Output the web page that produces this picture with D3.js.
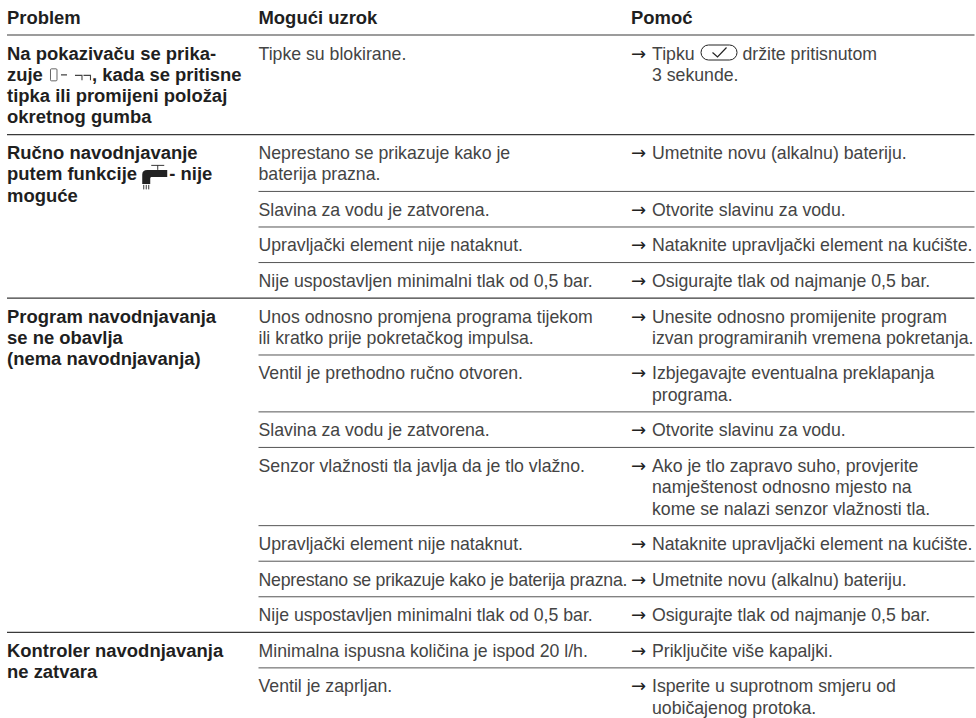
<!DOCTYPE html>
<html>
<head>
<meta charset="utf-8">
<script src="https://cdn.jsdelivr.net/npm/d3@7"></script>
<style>
  html, body { margin: 0; padding: 0; background: #fff; }
  svg { display: block; }
  text { font-family: "Liberation Sans", sans-serif; }
</style>
</head>
<body>
<svg id="chart" width="976" height="718"></svg>
<script>
const headers = ["Problem", "Mogući uzrok", "Pomoć"];

// each group: problem lines, then the index range of its rows
const problems = [
  ["Na pokazivaču se prika-", "zuje {lcd}, kada se pritisne", "tipka ili promijeni položaj", "okretnog gumba"],
  ["Ručno navodnjavanje", "putem funkcije {tap}- nije", "moguće"],
  ["Program navodnjavanja", "se ne obavlja", "(nema navodnjavanja)"],
  ["Kontroler navodnjavanja", "ne zatvara"]
];
const groupRows = [1, 4, 7, 2];

const causes = [
  ["Tipke su blokirane."],
  ["Neprestano se prikazuje kako je", "baterija prazna."],
  ["Slavina za vodu je zatvorena."],
  ["Upravljački element nije nataknut."],
  ["Nije uspostavljen minimalni tlak od 0,5 bar."],
  ["Unos odnosno promjena programa tijekom", "ili kratko prije pokretačkog impulsa."],
  ["Ventil je prethodno ručno otvoren."],
  ["Slavina za vodu je zatvorena."],
  ["Senzor vlažnosti tla javlja da je tlo vlažno."],
  ["Upravljački element nije nataknut."],
  ["Neprestano se prikazuje kako je baterija prazna."],
  ["Nije uspostavljen minimalni tlak od 0,5 bar."],
  ["Minimalna ispusna količina je ispod 20 l/h."],
  ["Ventil je zaprljan."]
];
const remedies = [
  ["Tipku {key} držite pritisnutom", "3 sekunde."],
  ["Umetnite novu (alkalnu) bateriju."],
  ["Otvorite slavinu za vodu."],
  ["Nataknite upravljački element na kućište."],
  ["Osigurajte tlak od najmanje 0,5 bar."],
  ["Unesite odnosno promijenite program", "izvan programiranih vremena pokretanja."],
  ["Izbjegavajte eventualna preklapanja", "programa."],
  ["Otvorite slavinu za vodu."],
  ["Ako je tlo zapravo suho, provjerite", "namještenost odnosno mjesto na", "kome se nalazi senzor vlažnosti tla."],
  ["Nataknite upravljački element na kućište."],
  ["Umetnite novu (alkalnu) bateriju."],
  ["Osigurajte tlak od najmanje 0,5 bar."],
  ["Priključite više kapaljki."],
  ["Isperite u suprotnom smjeru od", "uobičajenog protoka."]
];
// row height in text lines (first row keeps the height of its 4-line problem)
const rowLines = [4, 2, 1, 1, 1, 2, 2, 1, 3, 1, 1, 1, 1, 2];

const rowPad = 0.667; // in line units
const bodySize = 17.7;
const boldSize = 18.45;
const columns = ["problem", "cause", "remedy"];

const svg = d3.select("#chart");
const x = d3.scaleOrdinal().domain(columns).range([7, 258.5, 631]);
const y = d3.scaleLinear().domain([0, 1]).range([35, 56.33]);
const xEnd = 974.5;
const indent = 21;
const causeWidth = 369; // the long line is squeezed to stay clear of the arrow

// row tops in line units
const rowTops = d3.cumsum([0].concat(rowLines.map(n => n + rowPad)));

function drawIcon(g, name, cx, base) {
  const ig = g.append("g").attr("transform", `translate(${cx},${base})`);
  if (name === "lcd") {
    ig.append("rect").attr("x", 2.5).attr("y", -12).attr("width", 6.5).attr("height", 12)
      .attr("rx", 1).attr("fill", "none").attr("stroke", "#555").attr("stroke-width", 0.9);
    ig.append("path").attr("d", "M13 -6H19M27 -5.5H34V-0.5M35.5 -5.5H42.5V-0.5")
      .attr("fill", "none").attr("stroke", "#444").attr("stroke-width", 1.1);
    return 44;
  }
  if (name === "tap") {
    ig.append("path").attr("d", "M0 3.5V-6Q0 -10.5 5 -10.5H25V-3.5H9Q8 -3.5 8 -2V3.5Z").attr("fill", "#222");
    ig.append("path").attr("d", "M9 -15H22M15.5 -15V-10.5M1.5 4.5V9M4 4.5V9M6.5 4.5V9")
      .attr("fill", "none").attr("stroke", "#222").attr("stroke-width", 0.9);
    return 27;
  }
  // confirm key
  ig.append("rect").attr("x", 1.5).attr("y", -14.5).attr("width", 36).attr("height", 15)
    .attr("rx", 7.5).attr("fill", "none").attr("stroke", "#222").attr("stroke-width", 1);
  ig.append("path").attr("d", "M13 -7L18 -2.5L27 -12")
    .attr("fill", "none").attr("stroke", "#222").attr("stroke-width", 1.2);
  return 38;
}

// writes one line of text, swapping {name} tokens for small drawn icons
function drawLine(g, line, lx, base, bold, maxWidth) {
  let cx = lx;
  line.split(/(\{\w+\})/).filter(s => s.length).forEach(part => {
    const m = part.match(/^\{(\w+)\}$/);
    if (m) {
      cx += drawIcon(g, m[1], cx, base);
      return;
    }
    const t = g.append("text")
      .attr("x", cx).attr("y", base)
      .attr("font-size", bold ? boldSize : bodySize)
      .attr("font-weight", bold ? 700 : 400)
      .attr("fill", bold ? "#1f1f1f" : "#444")
      .attr("xml:space", "preserve")
      .style("white-space", "pre")
      .text(part);
    const w = t.node().getComputedTextLength();
    if (maxWidth && w > maxWidth) t.attr("textLength", maxWidth);
    cx += w;
  });
}

// headers
headers.forEach((h, i) => {
  drawLine(svg, h, x(columns[i]), 24, true);
});

// rules
const rules = svg.append("g");
function rule(x1, rowTop, major) {
  rules.append("line").attr("x1", x1).attr("x2", xEnd)
    .attr("y1", y(rowTop)).attr("y2", y(rowTop))
    .attr("stroke", major ? "#3a3a3a" : "#555")
    .attr("stroke-width", major ? 1.2 : 1);
}
rule(x("problem"), 0, true);

let rowIndex = 0;
problems.forEach((lines, gi) => {
  const top = rowTops[rowIndex];
  lines.forEach((ln, i) => drawLine(svg, ln, x("problem"), y(top + i) + 24.5, true));
  const last = rowIndex + groupRows[gi];
  if (gi < problems.length - 1) rule(x("problem"), rowTops[last], true);
  for (let r = rowIndex + 1; r < last; r++) rule(x("cause"), rowTops[r], false);
  rowIndex = last;
});

// cause and remedy cells
causes.forEach((lines, r) => {
  lines.forEach((ln, i) => drawLine(svg, ln, x("cause"), y(rowTops[r] + i) + 24.5, false, causeWidth));
});
remedies.forEach((lines, r) => {
  svg.append("text").attr("x", x("remedy")).attr("y", y(rowTops[r]) + 24.5)
    .style("font-family", "'DejaVu Sans'")
    .attr("font-size", 18).attr("fill", "#222").text("→");
  lines.forEach((ln, i) => drawLine(svg, ln, x("remedy") + indent, y(rowTops[r] + i) + 24.5, false));
});
</script>
</body>
</html>
